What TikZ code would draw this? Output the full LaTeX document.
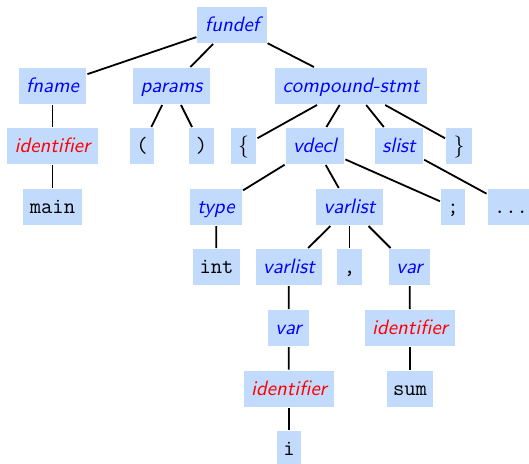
\documentclass[tikz,border=0pt]{standalone}
\usepackage{fontspec}
\definecolor{boxfill}{RGB}{194,218,252}
\tikzset{
  tn/.style={fill=boxfill, inner xsep=3.75pt, inner ysep=3.6pt,
    text height=8.8pt, text depth=2pt, outer sep=0.5pt,
    font=\fontsize{10.4}{12}\selectfont\sffamily\itshape},
  nt/.style={tn, text=blue},
  idn/.style={tn, text=red},
  lf/.style={tn, inner xsep=3.2pt, font=\fontsize{11}{12}\selectfont\ttfamily, text=black},
  br/.style={tn, font=\fontsize{11}{12}\selectfont, text=black},
  edge/.style={draw=black, line width=0.9pt},
}
\begin{document}
\begin{tikzpicture}[x=0.5pt, y=-0.5pt]
\useasboundingbox (0,0) rectangle (529,463);
% level 1
\node[nt] (fundef) at (232,25) {fundef};
% level 2
\node[nt] (fname) at (52.5,86) {fname};
\node[nt] (params) at (171.5,86) {params};
\node[nt] (cstmt) at (351,86) {compound-stmt};
% level 3
\node[idn] (id1) at (52.5,146) {identifier};
\node[lf] (lp) at (142,146) {(};
\node[lf] (rp) at (201.5,146) {)};
\node[br] (lb) at (243.5,146) {$\{$\hspace{4.5pt}};
\node[nt] (vdecl) at (315,146) {vdecl};
\node[nt] (slist) at (399,146) {slist};
\node[br] (rb) at (459,146) {$\}$\hspace{4.5pt}};
% level 4
\node[lf] (main) at (52.5,207) {main};
\node[nt] (type) at (216,207) {type};
\node[nt] (vlist) at (349.5,207) {varlist};
\node[lf] (semi) at (453,207) {;};
\node[lf] (dots) at (511,207) {...};
% level 5
\node[lf] (int) at (216.5,267) {int};
\node[nt] (vlist2) at (289,267) {varlist};
\node[lf] (comma) at (349.5,267) {,};
\node[nt] (var) at (409.5,267) {var};
% level 6
\node[nt] (var2) at (288.5,328) {var};
\node[idn] (id2) at (410,328) {identifier};
% level 7
\node[idn] (id3) at (289,388.5) {identifier};
\node[lf] (sum) at (410,388.5) {sum};
% level 8
\node[lf] (i) at (289,449) {i};

% tree edges
\foreach \p/\c in {fundef/fname, fundef/params, fundef/cstmt,
  fname/id1, id1/main, params/lp, params/rp,
  cstmt/lb, cstmt/vdecl, cstmt/slist, cstmt/rb,
  vdecl/type, vdecl/vlist, vdecl/semi, slist/dots,
  type/int, vlist/vlist2, vlist/comma, vlist/var,
  vlist2/var2, var2/id3, id3/i, var/id2, id2/sum}
  \draw[edge] (\p) -- (\c);
\end{tikzpicture}
\end{document}
